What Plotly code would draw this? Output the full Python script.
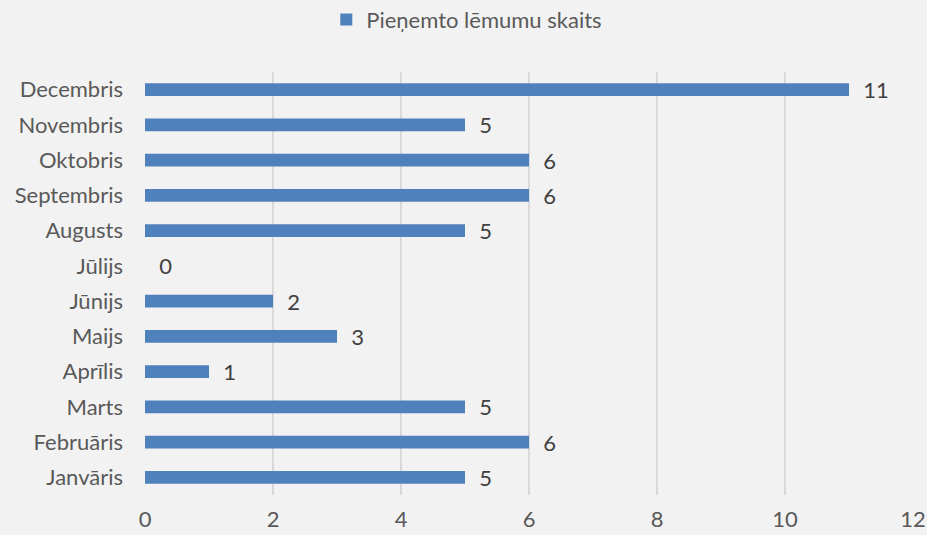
import plotly.graph_objects as go

months = ["Janvāris", "Februāris", "Marts", "Aprīlis", "Maijs", "Jūnijs",
          "Jūlijs", "Augusts", "Septembris", "Oktobris", "Novembris", "Decembris"]
values = [5, 6, 5, 1, 3, 2, 0, 5, 6, 6, 5, 11]
series_name = "Pieņemto lēmumu skaits"
x_ticks = [0, 2, 4, 6, 8, 10, 12]

font_family = "Lato, 'Open Sans', sans-serif"
text_color = "#595959"
fs = 22

fig = go.Figure()
fig.add_trace(go.Bar(
    x=values, y=months, orientation="h", name=series_name,
    marker=dict(color="#4f81bd", line=dict(width=0)),
    text=values, texttemplate="  %{x}", textposition="outside",
    constraintext="none",
    textfont=dict(size=fs, color="#404040", family=font_family),
    cliponaxis=False,
))

fig.update_layout(
    width=927, height=535,
    paper_bgcolor="#f2f2f2", plot_bgcolor="#f2f2f2",
    margin=dict(l=145, r=14, t=72, b=40),
    bargap=0.64,
    showlegend=True,
    legend=dict(orientation="h", x=0.419, xanchor="center", y=0.963, yanchor="middle",
                yref="container", font=dict(size=fs, color=text_color, family=font_family),
                itemwidth=30),
    font=dict(family=font_family, color=text_color, size=fs),
    xaxis=dict(range=[0, 12], tickvals=x_ticks, showgrid=True, gridcolor="#d9d9d9",
               gridwidth=1.5, zeroline=False, showline=False, automargin=False,
               tickfont=dict(size=fs, color=text_color), ticklabelstandoff=9),
    yaxis=dict(categoryorder="array", categoryarray=months, showgrid=False,
               zeroline=False, showline=False, automargin=False,
               tickfont=dict(size=fs, color=text_color), ticklabelstandoff=21),
)

fig.write_html("out.html", config={"displayModeBar": False},
               post_script="document.body.style.margin='0';")
